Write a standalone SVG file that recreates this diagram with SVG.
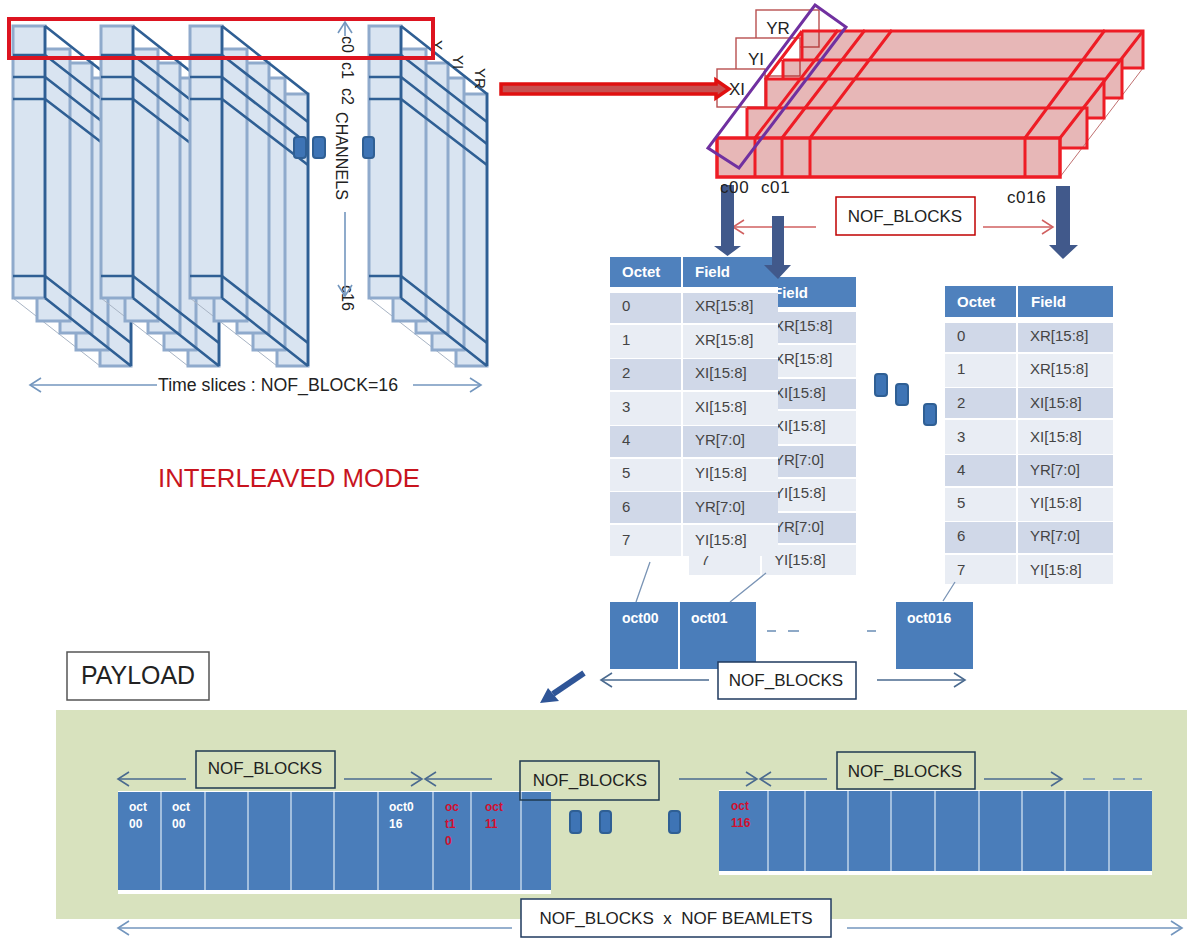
<svg xmlns="http://www.w3.org/2000/svg" xmlns:xlink="http://www.w3.org/1999/xlink" width="1187" height="938" viewBox="0 0 1187 938">
<style>
text{font-family:"Liberation Sans",Arial,sans-serif;fill:#222}
.sl{fill:#D9E4F1;stroke:#8FAACC;stroke-width:3}
.dk{fill:none;stroke:#2F5F94;stroke-width:2.6}
.thin{fill:none;stroke:#A8B4C4;stroke-width:1}
.dot{fill:#3E74B5;stroke:#2F5F94;stroke-width:2}
.lb{font-size:17px;text-anchor:middle}
.r{font-size:17px;text-anchor:middle}
.th{fill:#4F81BD}.d{fill:#D0D8E8}.l{fill:#E9EDF4}
.hd{font-size:15px;font-weight:bold;fill:#fff}
.c{font-size:15px;fill:#444}
.b{fill:#4A7DBA}
.div{stroke:#BFD3EA;stroke-width:1.5}
.ow{font-size:12px;font-weight:bold;fill:#fff}
.or{font-size:12px;font-weight:bold;fill:#D01030}
.ob{font-size:14px;font-weight:bold;fill:#fff}
.ar{fill:none;stroke:#4A6A8F;stroke-width:1.6;marker-end:url(#mb)}
.al{fill:none;stroke:#7396BE;stroke-width:1.6;marker-end:url(#ml)}
.ard{fill:none;stroke:#D06060;stroke-width:1.5;marker-end:url(#mr)}
.fat{fill:#41598B}
.rl{fill:none;stroke:#EE1C25;stroke-width:3}
.box{fill:#fff;stroke:#1F3A5F;stroke-width:1.5}
.boxg{fill:none;stroke:#1F3A50;stroke-width:1.5}
.dash{stroke:#6A8DB5;stroke-width:1.6;fill:none}
.cl{font-size:17px;letter-spacing:.6px}
</style>
<defs>
<marker id="mb" markerUnits="userSpaceOnUse" markerWidth="16" markerHeight="18" refX="13" refY="8" orient="auto"><path d="M2 1L13 8L2 15" fill="none" stroke="#4A6A8F" stroke-width="1.6"/></marker>
<marker id="ml" markerUnits="userSpaceOnUse" markerWidth="16" markerHeight="18" refX="13" refY="8" orient="auto"><path d="M2 1L13 8L2 15" fill="none" stroke="#7396BE" stroke-width="1.6"/></marker>
<marker id="mr" markerUnits="userSpaceOnUse" markerWidth="16" markerHeight="18" refX="13" refY="8" orient="auto"><path d="M2 1L13 8L2 15" fill="none" stroke="#D06060" stroke-width="1.5"/></marker>
<g id="stack">
<path class="thin" d="M0 272L87 340"/>
<rect class="sl" x="87" y="68" width="31" height="272"/>
<rect class="sl" x="63" y="52" width="32" height="272"/>
<rect class="sl" x="47" y="37" width="32" height="270"/>
<rect class="sl" x="24" y="23" width="33" height="272"/>
<rect class="sl" x="0" y="0" width="32" height="272"/>
<path class="dk" d="M32 0V272M32 0L118 68V340M32 272L118 340"/>
<path class="dk" d="M0 29H32L118 96M0 51H32L118 118M0 73H32L118 139M0 250H32L118 317"/>
</g>
</defs>

<g id="stacks">
<use xlink:href="#stack" href="#stack" x="13" y="26"/>
<use xlink:href="#stack" href="#stack" x="101" y="26"/>
<use xlink:href="#stack" href="#stack" x="190" y="26"/>
<use xlink:href="#stack" href="#stack" x="369" y="26"/>
</g>
<g id="stack-labels">
<text font-size="16" transform="translate(342,36) rotate(90)">c0</text>
<text font-size="16" transform="translate(342,62) rotate(90)">c1</text>
<text font-size="16" transform="translate(342,88) rotate(90)">c2</text>
<text font-size="16" textLength="88" lengthAdjust="spacingAndGlyphs" transform="translate(336,112) rotate(90)">CHANNELS</text>
<text font-size="16" transform="translate(342,285) rotate(90)">c16</text>
<text font-size="15" transform="translate(432,40) rotate(90)">Y</text>
<text font-size="15" transform="translate(453,55) rotate(90)">YI</text>
<text font-size="15" transform="translate(475,68) rotate(90)">YR</text>
</g>
<g id="stack-dots">
<rect class="dot" x="294" y="137" width="12" height="21" rx="3"/>
<rect class="dot" x="313" y="137" width="12" height="21" rx="3"/>
<rect class="dot" x="363" y="137" width="11" height="21" rx="3"/>
</g>
<rect id="selection" x="9" y="19" width="424" height="39" fill="none" stroke="#DD1420" stroke-width="4"/>
<text id="time-slices" x="158" y="391" font-size="18" textLength="240" lengthAdjust="spacingAndGlyphs">Time slices : NOF_BLOCK=16</text>
<text id="mode" x="158" y="487" font-size="25" style="fill:#C8141E" textLength="262" lengthAdjust="spacingAndGlyphs">INTERLEAVED MODE</text>

<g id="xi-boxes" fill="#fff" stroke="#B85050" stroke-width="1.4">
<rect x="756" y="10" width="63" height="37"/>
<rect x="736" y="38" width="64" height="38"/>
<rect x="717" y="69" width="48" height="38"/>
</g>
<g id="beam-block">
<path d="M717 138H747V108H766V79H783V60H802V31H1143V68H1122V98H1104V118H1087V148H1060V177H717Z" fill="#B01010" fill-opacity=".3"/>
<path d="M1060 177L1143 68" stroke="#C07070" stroke-width="1" fill="none"/>
<path class="rl" d="M802 31H1143V68H1122M783 60H1122V98H1104M766 79H1104V118H1087M747 108H1087V148H1060"/>
<path class="rl" d="M802 31V60M783 60V79M766 79V108M747 108V138M802 31L765 80M1143 31L1060 138"/>
<path class="rl" d="M755 138L838 30M782 138L865 30M810 138L892 30M1025 138L1105 30"/>
<rect x="717" y="138" width="343" height="39" fill="none" stroke="#EE1C25" stroke-width="3.5"/>
<path class="rl" d="M755 138V177M782 138V177M810 138V177M1025 138V177"/>
<polygon points="815,5 846,27 739,168 708,148" fill="none" stroke="#7030A0" stroke-width="3"/>
</g>
<g id="xi-labels">
<text class="r" x="778" y="34">YR</text>
<text class="r" x="756" y="65">YI</text>
<text class="r" x="737" y="95">XI</text>
</g>

<g id="table2">
<rect class="th" x="689" y="277" width="71" height="30"/><rect class="th" x="762" y="277" width="94" height="30"/>
<rect class="d" x="689" y="312" width="71" height="31"/><rect class="d" x="762" y="312" width="94" height="31"/>
<rect class="l" x="689" y="345" width="71" height="32"/><rect class="l" x="762" y="345" width="94" height="32"/>
<rect class="d" x="689" y="379" width="71" height="30"/><rect class="d" x="762" y="379" width="94" height="30"/>
<rect class="l" x="689" y="411" width="71" height="33"/><rect class="l" x="762" y="411" width="94" height="33"/>
<rect class="d" x="689" y="446" width="71" height="31"/><rect class="d" x="762" y="446" width="94" height="31"/>
<rect class="l" x="689" y="479" width="71" height="32"/><rect class="l" x="762" y="479" width="94" height="32"/>
<rect class="d" x="689" y="513" width="71" height="30"/><rect class="d" x="762" y="513" width="94" height="30"/>
<rect class="l" x="689" y="545" width="71" height="30"/><rect class="l" x="762" y="545" width="94" height="30"/>
<text class="hd" x="773" y="298">Field</text>
<text class="c" x="774" y="331">XR[15:8]</text><text class="c" x="774" y="364">XR[15:8]</text>
<text class="c" x="774" y="398">XI[15:8]</text><text class="c" x="774" y="431">XI[15:8]</text>
<text class="c" x="774" y="465">YR[7:0]</text><text class="c" x="774" y="498">YI[15:8]</text>
<text class="c" x="774" y="532">YR[7:0]</text><text class="c" x="774" y="565">YI[15:8]</text>
<text class="c" x="701" y="565">7</text>
</g>
<g id="table1">
<rect class="th" x="610" y="257" width="71" height="30"/><rect class="th" x="683" y="257" width="95" height="30"/>
<rect x="610" y="287" width="168" height="268" fill="#fff"/>
<rect class="d" x="610" y="293" width="71" height="30"/><rect class="d" x="683" y="293" width="95" height="30"/>
<rect class="l" x="610" y="325" width="71" height="33"/><rect class="l" x="683" y="325" width="95" height="33"/>
<rect class="d" x="610" y="359" width="71" height="31"/><rect class="d" x="683" y="359" width="95" height="31"/>
<rect class="l" x="610" y="392" width="71" height="33"/><rect class="l" x="683" y="392" width="95" height="33"/>
<rect class="d" x="610" y="426" width="71" height="31"/><rect class="d" x="683" y="426" width="95" height="31"/>
<rect class="l" x="610" y="459" width="71" height="32"/><rect class="l" x="683" y="459" width="95" height="32"/>
<rect class="d" x="610" y="492" width="71" height="31"/><rect class="d" x="683" y="492" width="95" height="31"/>
<rect class="l" x="610" y="525" width="71" height="31"/><rect class="l" x="683" y="525" width="95" height="31"/>
<text class="hd" x="622" y="277">Octet</text><text class="hd" x="695" y="277">Field</text>
<text class="c" x="622" y="311">0</text><text class="c" x="695" y="311">XR[15:8]</text>
<text class="c" x="622" y="345">1</text><text class="c" x="695" y="345">XR[15:8]</text>
<text class="c" x="622" y="378">2</text><text class="c" x="695" y="378">XI[15:8]</text>
<text class="c" x="622" y="412">3</text><text class="c" x="695" y="412">XI[15:8]</text>
<text class="c" x="622" y="445">4</text><text class="c" x="695" y="445">YR[7:0]</text>
<text class="c" x="622" y="478">5</text><text class="c" x="695" y="478">YI[15:8]</text>
<text class="c" x="622" y="512">6</text><text class="c" x="695" y="512">YR[7:0]</text>
<text class="c" x="622" y="545">7</text><text class="c" x="695" y="545">YI[15:8]</text>
</g>
<g id="table3">
<rect class="th" x="945" y="286" width="71" height="31"/><rect class="th" x="1018" y="286" width="95" height="31"/>
<rect class="d" x="945" y="323" width="71" height="29"/><rect class="d" x="1018" y="323" width="95" height="29"/>
<rect class="l" x="945" y="354" width="71" height="33"/><rect class="l" x="1018" y="354" width="95" height="33"/>
<rect class="d" x="945" y="388" width="71" height="30"/><rect class="d" x="1018" y="388" width="95" height="30"/>
<rect class="l" x="945" y="420" width="71" height="34"/><rect class="l" x="1018" y="420" width="95" height="34"/>
<rect class="d" x="945" y="455" width="71" height="31"/><rect class="d" x="1018" y="455" width="95" height="31"/>
<rect class="l" x="945" y="488" width="71" height="33"/><rect class="l" x="1018" y="488" width="95" height="33"/>
<rect class="d" x="945" y="522" width="71" height="31"/><rect class="d" x="1018" y="522" width="95" height="31"/>
<rect class="l" x="945" y="555" width="71" height="29"/><rect class="l" x="1018" y="555" width="95" height="29"/>
<text class="hd" x="957" y="307">Octet</text><text class="hd" x="1031" y="307">Field</text>
<text class="c" x="957" y="341">0</text><text class="c" x="1030" y="341">XR[15:8]</text>
<text class="c" x="957" y="374">1</text><text class="c" x="1030" y="374">XR[15:8]</text>
<text class="c" x="957" y="408">2</text><text class="c" x="1030" y="408">XI[15:8]</text>
<text class="c" x="957" y="442">3</text><text class="c" x="1030" y="442">XI[15:8]</text>
<text class="c" x="957" y="475">4</text><text class="c" x="1030" y="475">YR[7:0]</text>
<text class="c" x="957" y="508">5</text><text class="c" x="1030" y="508">YI[15:8]</text>
<text class="c" x="957" y="541">6</text><text class="c" x="1030" y="541">YR[7:0]</text>
<text class="c" x="957" y="575">7</text><text class="c" x="1030" y="575">YI[15:8]</text>
</g>
<g id="table-dots">
<rect class="dot" x="875" y="374" width="12" height="22" rx="3"/>
<rect class="dot" x="896" y="384" width="12" height="21" rx="3"/>
<rect class="dot" x="924" y="404" width="12" height="21" rx="3"/>
</g>

<g id="oct-row">
<rect class="b" x="610" y="602" width="68" height="67"/>
<rect class="b" x="680" y="602" width="76" height="67"/>
<rect class="b" x="896" y="602" width="77" height="67"/>
<text class="ob" x="622" y="623">oct00</text>
<text class="ob" x="691" y="623">oct01</text>
<text class="ob" x="907" y="623">oct016</text>
</g>

<g id="payload">
<rect x="67" y="652" width="142" height="48" fill="#fff" stroke="#555" stroke-width="1.5"/>
<text x="81" y="684" font-size="26" textLength="114" lengthAdjust="spacingAndGlyphs">PAYLOAD</text>
</g>
<rect id="payload-band" x="56" y="710" width="1131" height="209" fill="#D8E2BE"/>
<g id="bar1">
<rect x="118" y="791" width="433" height="103" fill="#fff"/>
<rect class="b" x="118" y="792" width="433" height="98"/>
<path class="div" d="M161 792V890M205 792V890M248 792V890M291 792V890M334 792V890M378 792V890M433 792V890M471 792V890M521 792V890"/>
<text class="ow" x="129" y="811">oct</text><text class="ow" x="129" y="828">00</text>
<text class="ow" x="172" y="811">oct</text><text class="ow" x="172" y="828">00</text>
<text class="ow" x="389" y="811">oct0</text><text class="ow" x="389" y="828">16</text>
<text class="or" x="445" y="811">oc</text><text class="or" x="445" y="828">t1</text><text class="or" x="445" y="845">0</text>
<text class="or" x="485" y="811">oct</text><text class="or" x="485" y="828">11</text>
</g>
<g id="bar2">
<rect x="719" y="790" width="433" height="85" fill="#fff"/>
<rect class="b" x="719" y="791" width="433" height="80"/>
<path class="div" d="M768 791V871M805 791V871M848 791V871M891 791V871M935 791V871M979 791V871M1022 791V871M1065 791V871M1109 791V871"/>
<text class="or" x="731" y="810">oct</text><text class="or" x="731" y="827">116</text>
</g>
<g id="bar-dots">
<rect class="dot" x="570" y="811" width="11" height="22" rx="3"/>
<rect class="dot" x="600" y="811" width="11" height="22" rx="3"/>
<rect class="dot" x="669" y="811" width="11" height="22" rx="3"/>
</g>

<g id="connectors">
<path class="al" d="M157 385H30"/>
<path class="al" d="M413 385H481"/>
<path class="al" d="M345 36V22"/>
<path class="al" d="M345 212V296"/>
<path d="M501 84H716V80L729 89L716 98V94H501Z" fill="#C85050" stroke="#E01010" stroke-width="3.5"/>
<path class="ard" d="M816 227H733"/>
<path class="ard" d="M983 227H1053"/>
<path class="fat" d="M721 185H734V246H741L727.500 256L714 246H721Z"/>
<path class="fat" d="M772 216H784V265H791L778 279L764 265H772Z"/>
<path class="fat" d="M1056 186H1070V245H1078L1063 259L1049 245H1056Z"/>
<path d="M650 562L636 602M766 573L730 602M955 582L943 601" stroke="#7A94B5" stroke-width="1.3" fill="none"/>
<path class="dash" d="M767 631H776M788 631H799M867 631H876"/>
<path class="ar" d="M709 680H601"/>
<path class="ar" d="M877 680H965"/>
<path d="M584 673L553 694" stroke="#2F5597" stroke-width="6" fill="none"/>
<path d="M540 703L548 688L559 701Z" fill="#2F5597"/>
<path class="ar" d="M186 779H118"/>
<path class="ar" d="M344 779H422"/>
<path class="ar" d="M492 779H425"/>
<path class="ar" d="M679 779H757"/>
<path class="ar" d="M827 779H760"/>
<path class="ar" d="M984 779H1062"/>
<path class="dash" d="M1083 779H1095M1113 779H1125M1133 779H1142"/>
<path class="al" d="M512 928H118"/>
<path class="al" d="M847 928H1182"/>
</g>

<g id="channel-labels">
<text class="cl" x="720" y="193">c00</text>
<text class="cl" x="761" y="193">c01</text>
<text class="cl" x="1007" y="203">c016</text>
</g>
<g id="nof-red">
<rect x="836" y="197" width="139" height="38" fill="#fff" stroke="#C00000" stroke-width="1.5"/>
<text class="lb" x="905" y="222">NOF_BLOCKS</text>
</g>
<g id="nof-oct">
<rect class="box" x="718" y="662" width="138" height="37"/>
<text class="lb" x="786" y="686">NOF_BLOCKS</text>
</g>
<g id="nof-1">
<rect class="boxg" x="196" y="751" width="139" height="37"/>
<text class="lb" x="265" y="774">NOF_BLOCKS</text>
</g>
<g id="nof-2">
<rect class="boxg" x="520" y="761" width="139" height="39"/>
<text class="lb" x="590" y="786">NOF_BLOCKS</text>
</g>
<g id="nof-3">
<rect class="boxg" x="837" y="752" width="138" height="37"/>
<text class="lb" x="905" y="777">NOF_BLOCKS</text>
</g>
<g id="nof-total">
<rect class="box" x="521" y="899" width="310" height="38"/>
<text class="lb" x="676" y="924" xml:space="preserve">NOF_BLOCKS  x  NOF BEAMLETS</text>
</g>
</svg>
